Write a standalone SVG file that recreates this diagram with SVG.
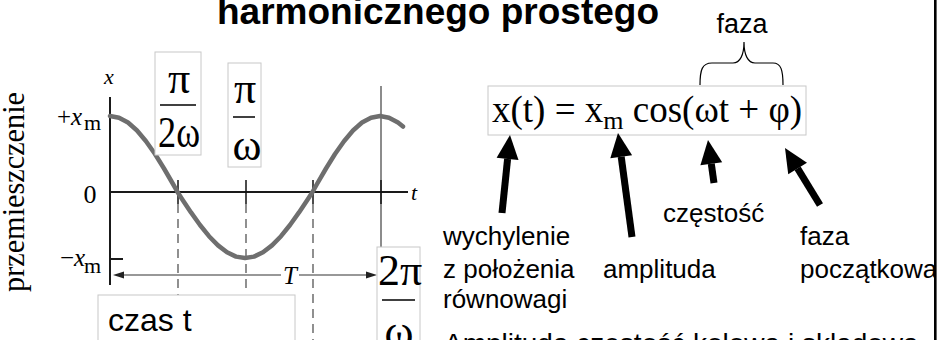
<svg xmlns="http://www.w3.org/2000/svg" width="937" height="340" viewBox="0 0 937 340">
<style>
.sans{font-family:"Liberation Sans",Arial,sans-serif;fill:#000}
.serif{font-family:"Liberation Serif","Times New Roman",serif;fill:#000}
.box{fill:#fff;stroke:#c8c8c8;stroke-width:1}
.dash{stroke:#555;stroke-width:1.3;stroke-dasharray:9,6;fill:none}
.ax{stroke:#1a1a1a;stroke-width:2;fill:none}
.tick{stroke:#111;stroke-width:1.5}
.arr{stroke:#000;stroke-width:7;fill:none}
.lbl{font-size:26px}
</style>
<defs>
<clipPath id="page"><rect x="0" y="0" width="934" height="340"/></clipPath>
</defs>
<rect x="0" y="0" width="937" height="340" fill="#fff"/>
<g clip-path="url(#page)">
<text id="title" class="sans" x="217" y="24" font-size="37" font-weight="bold">harmonicznego prostego</text>

<g id="graph">
<text class="serif" font-size="31" transform="translate(24,192) rotate(-90)" text-anchor="middle" textLength="200" lengthAdjust="spacingAndGlyphs">przemieszczenie</text>
<text class="serif" x="109" y="84" font-size="22" font-style="italic" text-anchor="middle">x</text>
<text class="serif" x="57" y="125" font-size="25">+<tspan font-style="italic">x</tspan></text>
<text class="serif" x="84" y="130" font-size="22">m</text>
<text class="serif" x="90" y="203" font-size="26" text-anchor="middle">0</text>
<text class="serif" x="60" y="266" font-size="25">−<tspan font-style="italic">x</tspan></text>
<text class="serif" x="84" y="273" font-size="22">m</text>
<text class="serif" x="411" y="200" font-size="22" font-style="italic">t</text>
<line class="dash" x1="178" y1="204" x2="178" y2="300"/>
<line class="dash" x1="246" y1="204" x2="246" y2="292"/>
<line class="dash" x1="313" y1="204" x2="313" y2="340"/>
<line x1="381" y1="86" x2="381" y2="250" stroke="#666" stroke-width="1.5"/>
<line class="ax" x1="110" y1="97" x2="110" y2="285"/>
<line class="ax" x1="110" y1="192" x2="408" y2="192"/>
<line class="ax" x1="110" y1="259" x2="123" y2="259"/>
<line class="tick" x1="178" y1="180" x2="178" y2="204"/>
<line class="tick" x1="246" y1="180" x2="246" y2="204"/>
<line class="tick" x1="313" y1="180" x2="313" y2="204"/>
<line class="tick" x1="381" y1="180" x2="381" y2="204"/>
<polyline fill="none" stroke="#6e6e6e" stroke-width="4.5" stroke-linecap="round" stroke-linejoin="round" points="110,116 119,117.7 128,122.5 137,130.5 146,141.2 155,154 164,168.5 173,184 177.5,192 182,198.9 191,212.4 200,225 209,236.2 218,245.4 227,252.3 236,256.6 245,258 254,256.6 263,252.3 272,245.4 281,236.2 290,225 299,212.4 308,198.9 312.5,192 317,184 326,168.5 335,154 344,141.2 353,130.5 362,122.5 371,117.7 380,116 389,117.7 398,122.5 403,126.6"/>
<line x1="120" y1="275" x2="281" y2="275" stroke="#333" stroke-width="1.2"/>
<line x1="299" y1="275" x2="370" y2="275" stroke="#333" stroke-width="1.2"/>
<polygon points="113,275 124,271.5 124,278.5" fill="#222"/>
<polygon points="377,275 366,271.5 366,278.5" fill="#222"/>
<text class="serif" x="290" y="284" font-size="25" font-style="italic" text-anchor="middle">T</text>
</g>

<g id="frac1">
<rect class="box" x="155" y="52" width="46" height="103"/>
<text class="serif" x="179" y="93" font-size="44" text-anchor="middle">π</text>
<line x1="160" y1="105" x2="196" y2="105" stroke="#000" stroke-width="1.5"/>
<text class="serif" x="179" y="147" font-size="44" text-anchor="middle" textLength="42" lengthAdjust="spacingAndGlyphs">2ω</text>
</g>
<g id="frac2">
<rect class="box" x="228" y="63" width="33" height="104"/>
<text class="serif" x="245" y="103" font-size="44" text-anchor="middle">π</text>
<line x1="233" y1="117" x2="255" y2="117" stroke="#000" stroke-width="1.5"/>
<text class="serif" x="247" y="160" font-size="44" text-anchor="middle">ω</text>
</g>
<g id="frac3">
<rect class="box" x="377" y="247" width="43" height="100"/>
<text class="serif" x="400" y="285" font-size="44" text-anchor="middle">2π</text>
<line x1="382" y1="300" x2="415" y2="300" stroke="#000" stroke-width="1.5"/>
<text class="serif" x="399" y="346" font-size="44" text-anchor="middle">ω</text>
</g>
<g id="czas">
<rect class="box" x="98" y="295" width="197" height="60"/>
<text class="sans" x="108" y="331" font-size="32">czas t</text>
</g>

<g id="formula">
<rect class="box" x="488" y="86" width="318" height="49"/>
<text class="serif" x="492" y="122" font-size="37">x(t) = x<tspan font-size="26" dy="7">m</tspan><tspan dy="-7"> cos(ωt + φ)</tspan></text>
</g>
<g id="faza-brace">
<path d="M700,85 C700,70 702,63 712,63 L733,63 C740,63 744,55 744,42 C744,55 748,63 755,63 L773,63 C781,63 783,70 783,85" fill="none" stroke="#000" stroke-width="1.2"/>
<text class="sans" x="742" y="33" font-size="27" text-anchor="middle">faza</text>
</g>

<g id="connectors">
<line class="arr" x1="502" y1="213" x2="507.6" y2="158.9"/>
<polygon points="510,135 518.5,160 496.6,157.8"/>
<line class="arr" x1="632" y1="237" x2="621.2" y2="156.8"/>
<polygon points="618,133 632.1,155.3 610.3,158.3"/>
<line class="arr" x1="714" y1="183" x2="711.3" y2="163.8"/>
<polygon points="708,140 722.2,162.3 700.4,165.3"/>
<line class="arr" x1="820" y1="205" x2="797.6" y2="168.4"/>
<polygon points="785,148 807,162.7 788.2,174.2"/>
</g>

<g id="labels">
<text class="sans lbl" x="443" y="245">wychylenie</text>
<text class="sans lbl" x="443" y="278">z położenia</text>
<text class="sans lbl" x="443" y="308">równowagi</text>
<text class="sans lbl" x="603" y="278">amplituda</text>
<text class="sans lbl" x="663" y="222">częstość</text>
<text class="sans lbl" x="800" y="245">faza</text>
<text class="sans lbl" x="800" y="278">początkowa</text>
</g>
<text id="bottom" class="sans" x="444" y="353" font-size="28">Amplituda częstość kołowa i składowa</text>
</g>
<rect x="934" y="0" width="2.6" height="340" fill="#000"/>
</svg>
